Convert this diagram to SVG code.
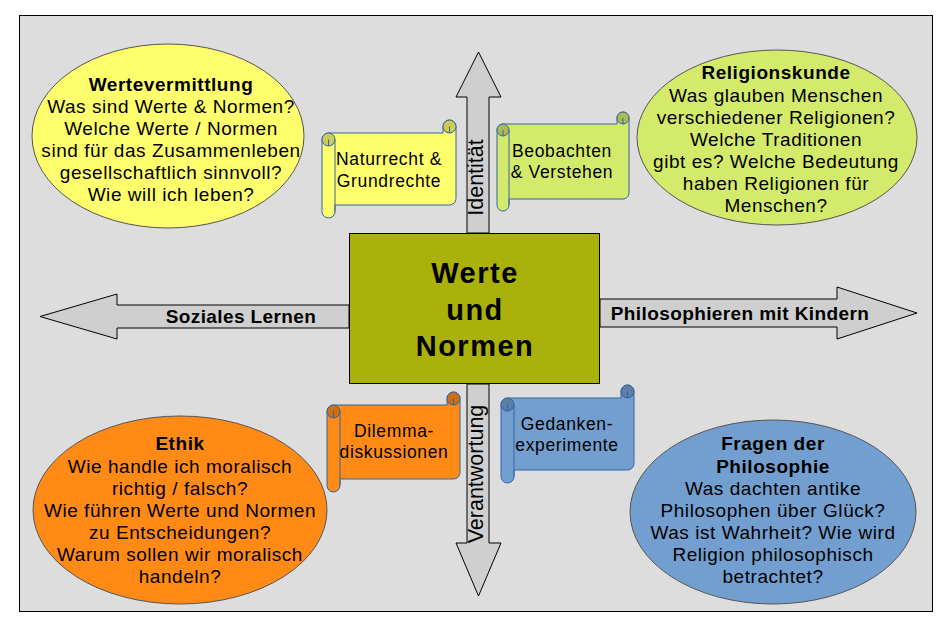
<svg xmlns="http://www.w3.org/2000/svg" width="949" height="632" viewBox="0 0 949 632">
<style>
text{font-family:"Liberation Sans",Arial,sans-serif;fill:#000;text-anchor:middle}
.t{font-size:19px;letter-spacing:0.55px}
.b{font-weight:bold}
.s{font-size:17.5px;letter-spacing:0.65px}
.al{font-size:19px;font-weight:bold;letter-spacing:0.4px}
.av{font-size:21.5px}
.c{font-size:29px;font-weight:bold;letter-spacing:1.5px}
.arrow{fill:#cfcfcf;stroke:#000;stroke-width:1}
.ell{stroke:#555;stroke-width:1}
.scr{stroke:#3465a4;stroke-width:1}
.curl{fill:none;stroke:#3465a4;stroke-width:1}
</style>
<rect x="19.5" y="15.5" width="913" height="596" fill="#dddddd" stroke="#000" stroke-width="1"/>
<g id="connectors">
<polygon class="arrow" points="349,305 117,305 117,294 40,316.5 117,339 117,328 349,328"/>
<polygon class="arrow" points="600,299 837,299 837,287 917,313 837,339 837,327 600,327"/>
<polygon class="arrow" points="467,233 467,97 456,97 478.5,52 501,97 489,97 489,233"/>
<polygon class="arrow" points="467,384 467,543 456,543 478.5,596 501,543 489,543 489,384"/>
<text class="al" x="241" y="323">Soziales Lernen</text>
<text class="al" x="740" y="319.5">Philosophieren mit Kindern</text>
<text class="av" transform="translate(483,177.5) rotate(-90)">Identität</text>
<text class="av" transform="translate(483,474) rotate(-90)">Verantwortung</text>
</g>
<g id="center">
<rect x="349.5" y="233.5" width="250" height="150" fill="#aab10a" stroke="#000" stroke-width="1"/>
<text class="c" x="475" y="283">Werte</text>
<text class="c" x="475" y="320">und</text>
<text class="c" x="475" y="356">Normen</text>
</g>
<g id="wertevermittlung">
<ellipse class="ell" cx="168" cy="136" rx="136" ry="92" fill="#ffff6d"/>
<text class="t b" x="171" y="91">Wertevermittlung</text>
<text class="t" x="171" y="113">Was sind Werte &amp; Normen?</text>
<text class="t" x="171" y="135">Welche Werte / Normen</text>
<text class="t" x="171" y="157">sind für das Zusammenleben</text>
<text class="t" x="171" y="179">gesellschaftlich sinnvoll?</text>
<text class="t" x="171" y="201">Wie will ich leben?</text>
</g>
<g id="religionskunde">
<ellipse class="ell" cx="777" cy="137.5" rx="140" ry="87.5" fill="#d4ea6b"/>
<text class="t b" x="776" y="79">Religionskunde</text>
<text class="t" x="776" y="101.5">Was glauben Menschen</text>
<text class="t" x="776" y="123.5">verschiedener Religionen?</text>
<text class="t" x="776" y="145.5">Welche Traditionen</text>
<text class="t" x="776" y="167.5">gibt es? Welche Bedeutung</text>
<text class="t" x="776" y="189.5">haben Religionen für</text>
<text class="t" x="776" y="211.5">Menschen?</text>
</g>
<g id="ethik">
<ellipse class="ell" cx="180" cy="510" rx="147" ry="94" fill="#ff8a16"/>
<text class="t b" x="180" y="450">Ethik</text>
<text class="t" x="180" y="472.5">Wie handle ich moralisch</text>
<text class="t" x="180" y="494.5">richtig / falsch?</text>
<text class="t" x="180" y="516.5">Wie führen Werte und Normen</text>
<text class="t" x="180" y="539">zu Entscheidungen?</text>
<text class="t" x="180" y="561">Warum sollen wir moralisch</text>
<text class="t" x="180" y="583">handeln?</text>
</g>
<g id="philosophie">
<ellipse class="ell" cx="773" cy="512" rx="143" ry="92" fill="#729fcf"/>
<text class="t b" x="773" y="450">Fragen der</text>
<text class="t b" x="773" y="472.5">Philosophie</text>
<text class="t" x="773" y="495">Was dachten antike</text>
<text class="t" x="773" y="517">Philosophen über Glück?</text>
<text class="t" x="773" y="539">Was ist Wahrheit? Wie wird</text>
<text class="t" x="773" y="561">Religion philosophisch</text>
<text class="t" x="773" y="583">betrachtet?</text>
</g>
<g id="naturrecht">
<path class="scr" fill="#ffff6d" d="M328.5,133 L443,133 L443,126.5 A6.5,6.5 0 0 1 456,126.5 L456,198.5 A6.5,6.5 0 0 1 449.5,205 L335,205 L335,211.5 A6.5,6.5 0 0 1 322,211.5 L322,139.5 A6.5,6.5 0 0 1 328.5,133 Z"/>
<circle class="scr" cx="449.5" cy="126.5" r="6.5" fill="#cccc57"/>
<circle class="scr" cx="328.5" cy="139.5" r="6.5" fill="#cccc57"/>
<path class="curl" d="M449.5,126.5 L449.5,133 M335,139.5 L335,211.5 M328.5,139.5 L328.5,146"/>
<text class="s" x="389" y="165">Naturrecht &amp;</text>
<text class="s" x="389" y="187">Grundrechte</text>
</g>
<g id="beobachten">
<path class="scr" fill="#d4ea6b" d="M503,124 L617,124 L617,118 A6,6 0 0 1 629,118 L629,193 A6,6 0 0 1 623,199 L509,199 L509,205 A6,6 0 0 1 497,205 L497,130 A6,6 0 0 1 503,124 Z"/>
<circle class="scr" cx="623" cy="118" r="6" fill="#aabb56"/>
<circle class="scr" cx="503" cy="130" r="6" fill="#aabb56"/>
<path class="curl" d="M623,118 L623,124 M509,130 L509,205 M503,130 L503,136"/>
<text class="s" x="562" y="157">Beobachten</text>
<text class="s" x="562" y="178">&amp; Verstehen</text>
</g>
<g id="dilemma">
<path class="scr" fill="#ff8a16" d="M333.5,405 L447,405 L447,398.5 A6.5,6.5 0 0 1 460,398.5 L460,472.5 A6.5,6.5 0 0 1 453.5,479 L340,479 L340,485.5 A6.5,6.5 0 0 1 327,485.5 L327,411.5 A6.5,6.5 0 0 1 333.5,405 Z"/>
<circle class="scr" cx="453.5" cy="398.5" r="6.5" fill="#cc6e12"/>
<circle class="scr" cx="333.5" cy="411.5" r="6.5" fill="#cc6e12"/>
<path class="curl" d="M453.5,398.5 L453.5,405 M340,411.5 L340,485.5 M333.5,411.5 L333.5,418"/>
<text class="s" x="394" y="437">Dilemma-</text>
<text class="s" x="394" y="458">diskussionen</text>
</g>
<g id="gedanken">
<path class="scr" fill="#729fcf" d="M507.5,398 L621,398 L621,391.5 A6.5,6.5 0 0 1 634,391.5 L634,463.5 A6.5,6.5 0 0 1 627.5,470 L514,470 L514,476.5 A6.5,6.5 0 0 1 501,476.5 L501,404.5 A6.5,6.5 0 0 1 507.5,398 Z"/>
<circle class="scr" cx="627.5" cy="391.5" r="6.5" fill="#5b7fa6"/>
<circle class="scr" cx="507.5" cy="404.5" r="6.5" fill="#5b7fa6"/>
<path class="curl" d="M627.5,391.5 L627.5,398 M514,404.5 L514,476.5 M507.5,404.5 L507.5,411"/>
<text class="s" x="567" y="430">Gedanken-</text>
<text class="s" x="567" y="451">experimente</text>
</g>
</svg>
